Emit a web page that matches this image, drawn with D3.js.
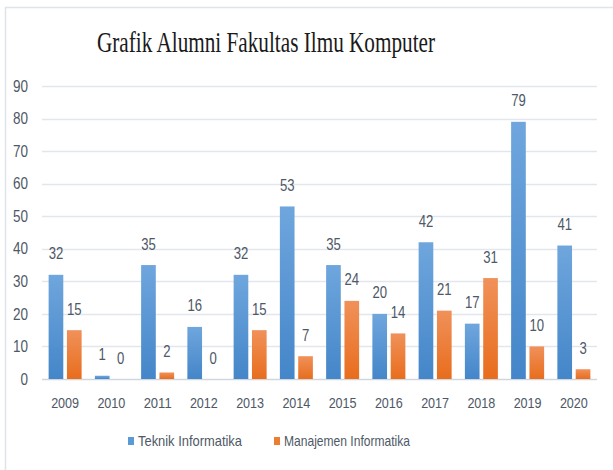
<!DOCTYPE html>
<html>
<head>
<meta charset="utf-8">
<script src="https://cdn.jsdelivr.net/npm/d3@7"></script>
<style>
  body { margin: 0; background: #fff; }
  text { font-family: "Liberation Sans", Arial, sans-serif; fill: #4e5866; }
</style>
</head>
<body>
<div id="chart"></div>
<script>
// data
var years = ["2009", "2010", "2011", "2012", "2013", "2014", "2015", "2016", "2017", "2018", "2019", "2020"];
var seriesNames = ["Teknik Informatika", "Manajemen Informatika"];
var teknik = [32, 1, 35, 16, 32, 53, 35, 20, 42, 17, 79, 41];
var manajemen = [15, 0, 2, 0, 15, 7, 24, 14, 21, 31, 10, 3];
var yTicks = [0, 10, 20, 30, 40, 50, 60, 70, 80, 90];

var svgWidth = 613;
var svgHeight = 470;

var margin = { top: 86, right: 16, bottom: 91, left: 42 };
var width = svgWidth - margin.left - margin.right;
var height = svgHeight - margin.top - margin.bottom;

var textColor = "#4e5866";

// the original text is a narrow face, squeeze each label to that width
var digitW = 7.3;
function squeeze(sel, perChar) {
  sel.each(function() {
    var t = d3.select(this);
    t.attr("textLength", t.text().length * perChar)
      .attr("lengthAdjust", "spacingAndGlyphs");
  });
}

var svg = d3.select("#chart")
  .append("svg")
  .attr("width", svgWidth)
  .attr("height", svgHeight);

// gradients for the bars
var defs = svg.append("defs");
function addGradient(id, top, bottom) {
  var g = defs.append("linearGradient")
    .attr("id", id)
    .attr("x1", 0).attr("y1", 0).attr("x2", 0).attr("y2", 1);
  g.append("stop").attr("offset", "0%").attr("stop-color", top);
  g.append("stop").attr("offset", "100%").attr("stop-color", bottom);
}
addGradient("gradBlue", "#6fa6dd", "#4486c9");
addGradient("gradOrange", "#f0915a", "#e86d1d");
var fills = ["url(#gradBlue)", "url(#gradOrange)"];
var legendColors = ["#5b9bd5", "#ed7d31"];

// outer frame (cut off at right and bottom)
svg.append("rect")
  .attr("x", 5.5)
  .attr("y", 7.5)
  .attr("width", 700)
  .attr("height", 600)
  .attr("fill", "none")
  .attr("stroke", "#dfe3ea")
  .attr("stroke-width", 1.5);

// title
svg.append("text")
  .attr("x", 97)
  .attr("y", 52)
  .attr("textLength", 338)
  .attr("lengthAdjust", "spacingAndGlyphs")
  .style("font-family", "'Liberation Serif', 'Times New Roman', serif")
  .style("font-size", "29px")
  .style("fill", "#1a1a1a")
  .text("Grafik Alumni Fakultas Ilmu Komputer");

var chartGroup = svg.append("g")
  .attr("transform", `translate(${margin.left}, ${margin.top})`);

var x0 = d3.scaleBand()
  .domain(years)
  .range([0, width]);

var bw = x0.bandwidth();
var x1 = d3.scaleBand()
  .domain(seriesNames)
  .range([bw / 2 - 16.5, bw / 2 + 16.5])
  .paddingInner(0.2);

var y = d3.scaleLinear()
  .domain([0, 90])
  .range([height, 0]);

// gridlines
chartGroup.append("g")
  .selectAll("line")
  .data(yTicks)
  .enter()
  .append("line")
  .attr("x1", 0)
  .attr("x2", width)
  .attr("y1", d => Math.round(y(d)) + 0.5)
  .attr("y2", d => Math.round(y(d)) + 0.5)
  .attr("stroke", d => d === 0 ? "#d0d6de" : "#e3e7ed")
  .attr("stroke-width", 1.5);

// y axis labels
var leftAxis = d3.axisLeft(y).tickValues(yTicks).tickSize(0).tickPadding(14);
chartGroup.append("g")
  .call(leftAxis)
  .call(g => g.select(".domain").remove())
  .selectAll("text")
  .style("font-size", "16px")
  .style("fill", textColor)
  .style("font-family", "'Liberation Sans', sans-serif")
  .call(squeeze, 7.5);

// x axis labels
var bottomAxis = d3.axisBottom(x0).tickSize(0).tickPadding(19);
chartGroup.append("g")
  .attr("transform", `translate(0, ${height})`)
  .call(bottomAxis)
  .call(g => g.select(".domain").remove())
  .selectAll("text")
  .style("font-size", "14.5px")
  .style("fill", textColor)
  .style("font-family", "'Liberation Sans', sans-serif")
  .call(squeeze, 7);

// build rows
var rows = years.map(function(yr, i) {
  return { year: yr, values: [teknik[i], manajemen[i]] };
});

var groups = chartGroup.selectAll(".year")
  .data(rows)
  .enter()
  .append("g")
  .attr("class", "year")
  .attr("transform", d => `translate(${x0(d.year)}, 0)`);

groups.selectAll("rect")
  .data(d => d.values.map((v, k) => ({ key: seriesNames[k], k: k, value: v })))
  .enter()
  .append("rect")
  .attr("x", d => x1(d.key))
  .attr("y", d => y(d.value))
  .attr("width", x1.bandwidth())
  .attr("height", d => height - y(d.value))
  .attr("fill", d => fills[d.k]);

groups.selectAll(".lbl")
  .data(d => d.values.map((v, k) => ({ key: seriesNames[k], k: k, value: v })))
  .enter()
  .append("text")
  .attr("class", "lbl")
  .attr("x", d => x1(d.key) + x1.bandwidth() / 2)
  .attr("y", d => y(d.value) - 15.5)
  .attr("text-anchor", "middle")
  .style("font-size", "16px")
  .style("fill", textColor)
  .text(d => d.value)
  .call(squeeze, digitW);

// legend
var legendX = [128, 274];
var legendW = [104, 126];
var legend = svg.append("g");
seriesNames.forEach(function(name, k) {
  legend.append("rect")
    .attr("x", legendX[k])
    .attr("y", 437)
    .attr("width", 6)
    .attr("height", 8)
    .attr("fill", legendColors[k]);
  legend.append("text")
    .attr("x", legendX[k] + 10)
    .attr("y", 446)
    .attr("textLength", legendW[k])
    .attr("lengthAdjust", "spacingAndGlyphs")
    .style("font-size", "15px")
    .style("fill", textColor)
    .text(name);
});
</script>
</body>
</html>
